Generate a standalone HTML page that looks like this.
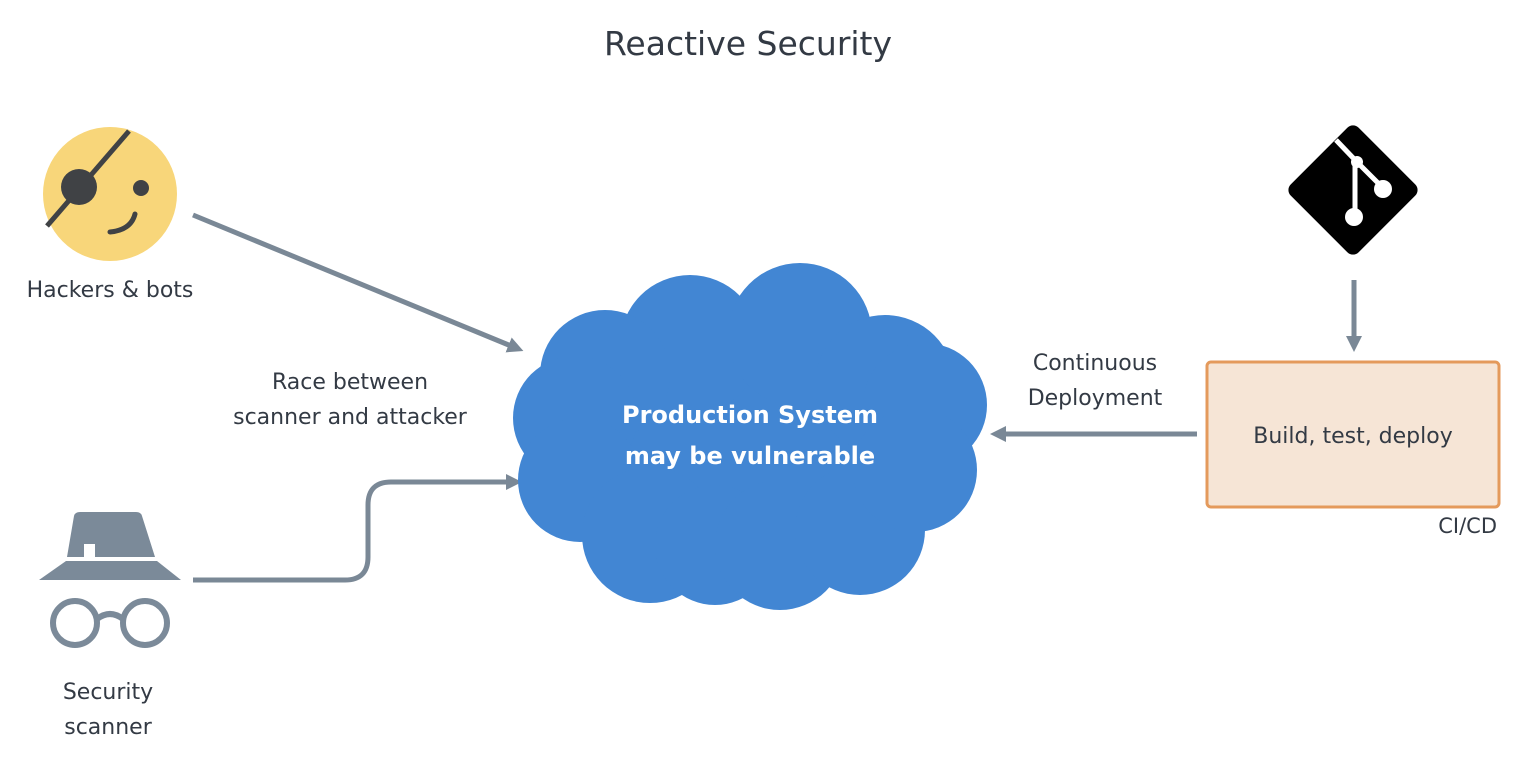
<!DOCTYPE html>
<html><head><style>
html,body{margin:0;padding:0;background:#fff;}
svg{display:block}
text{font-family:"DejaVu Sans","Liberation Sans",sans-serif;fill:#333a44}
</style></head><body>
<svg width="1528" height="770" viewBox="0 0 1528 770" xmlns="http://www.w3.org/2000/svg">
<defs>
<marker id="ah" markerWidth="16" markerHeight="16" refX="8" refY="8" orient="auto" markerUnits="userSpaceOnUse" viewBox="0 0 16 16">
<path d="M0,0 L16,8 L0,16 Z" fill="#7a8896"/>
</marker>
</defs>
<text x="748" y="55" font-size="33" text-anchor="middle">Reactive Security</text>

<!-- hacker face -->
<circle cx="110" cy="194" r="67" fill="#f8d67a"/>
<line x1="47" y1="226" x2="129" y2="131" stroke="#404245" stroke-width="5"/>
<circle cx="79" cy="187" r="18" fill="#404245"/>
<circle cx="141" cy="188" r="8" fill="#404245"/>
<path d="M110,232 Q131,230 135,214" fill="none" stroke="#404245" stroke-width="5" stroke-linecap="round"/>
<text x="110" y="297" font-size="22" text-anchor="middle">Hackers &amp; bots</text>

<!-- scanner -->
<path d="M74,516 Q75,512 80,512 L136,512 Q141,512 142,516 L155,557 L95,557 L95,544 L84,544 L84,557 L67,557 Z" fill="#7b8a99"/>
<path d="M66,561 L157,561 L181,580 L39,580 Z" fill="#7b8a99"/>
<circle cx="75" cy="623" r="22" fill="none" stroke="#7b8a99" stroke-width="6"/>
<circle cx="145" cy="623" r="22" fill="none" stroke="#7b8a99" stroke-width="6"/>
<path d="M97,619 Q110,609 123,619" fill="none" stroke="#7b8a99" stroke-width="6"/>
<text x="108" y="699" font-size="22" text-anchor="middle">Security</text>
<text x="108" y="734" font-size="22" text-anchor="middle">scanner</text>

<text x="350" y="389" font-size="22" text-anchor="middle">Race between</text>
<text x="350" y="424" font-size="22" text-anchor="middle">scanner and attacker</text>

<!-- arrows -->
<line x1="193" y1="215" x2="516" y2="348" stroke="#7a8896" stroke-width="5" marker-end="url(#ah)"/>
<path d="M193,580 L345,580 Q368,580 368,557 L368,505 Q368,482 391,482 L514,482" fill="none" stroke="#7a8896" stroke-width="5" marker-end="url(#ah)"/>

<!-- cloud -->
<g fill="#4286d3">
<ellipse cx="750" cy="440" rx="200" ry="130"/>
<circle cx="690" cy="345" r="70"/>
<circle cx="800" cy="335" r="72"/>
<circle cx="885" cy="385" r="70"/>
<circle cx="605" cy="375" r="65"/>
<circle cx="575" cy="418" r="62"/>
<circle cx="580" cy="480" r="62"/>
<circle cx="650" cy="535" r="68"/>
<circle cx="715" cy="545" r="60"/>
<circle cx="780" cy="545" r="65"/>
<circle cx="860" cy="530" r="65"/>
<circle cx="925" cy="405" r="62"/>
<circle cx="915" cy="470" r="62"/>
</g>
<text x="750" y="423" font-size="24" text-anchor="middle" font-weight="bold" style="fill:#fff">Production System</text>
<text x="750" y="464" font-size="24" text-anchor="middle" font-weight="bold" style="fill:#fff">may be vulnerable</text>

<!-- CD arrow -->
<line x1="1197" y1="434" x2="998" y2="434" stroke="#7a8896" stroke-width="5" marker-end="url(#ah)"/>
<text x="1095" y="370" font-size="22" text-anchor="middle">Continuous</text>
<text x="1095" y="405" font-size="22" text-anchor="middle">Deployment</text>

<!-- git -->
<rect x="1305" y="142" width="96" height="96" rx="8" fill="#000" transform="rotate(45 1353 190)"/>
<g stroke="#fff" stroke-width="5" fill="#fff">
<line x1="1336" y1="140" x2="1357" y2="162"/>
<line x1="1357" y1="162" x2="1382" y2="187"/>
<line x1="1355" y1="162" x2="1355" y2="215"/>
<circle cx="1357" cy="162" r="6" stroke="none"/>
<circle cx="1383" cy="189" r="9" stroke="none"/>
<circle cx="1354" cy="217" r="9" stroke="none"/>
</g>
<line x1="1354" y1="280" x2="1354" y2="344" stroke="#7a8896" stroke-width="5" marker-end="url(#ah)"/>

<!-- CI box -->
<rect x="1207" y="362" width="292" height="145" rx="4" fill="#f6e5d6" stroke="#e49a5c" stroke-width="3"/>
<text x="1353" y="443" font-size="22" text-anchor="middle">Build, test, deploy</text>
<text x="1497" y="533" font-size="21" text-anchor="end">CI/CD</text>
</svg>
</body></html>
